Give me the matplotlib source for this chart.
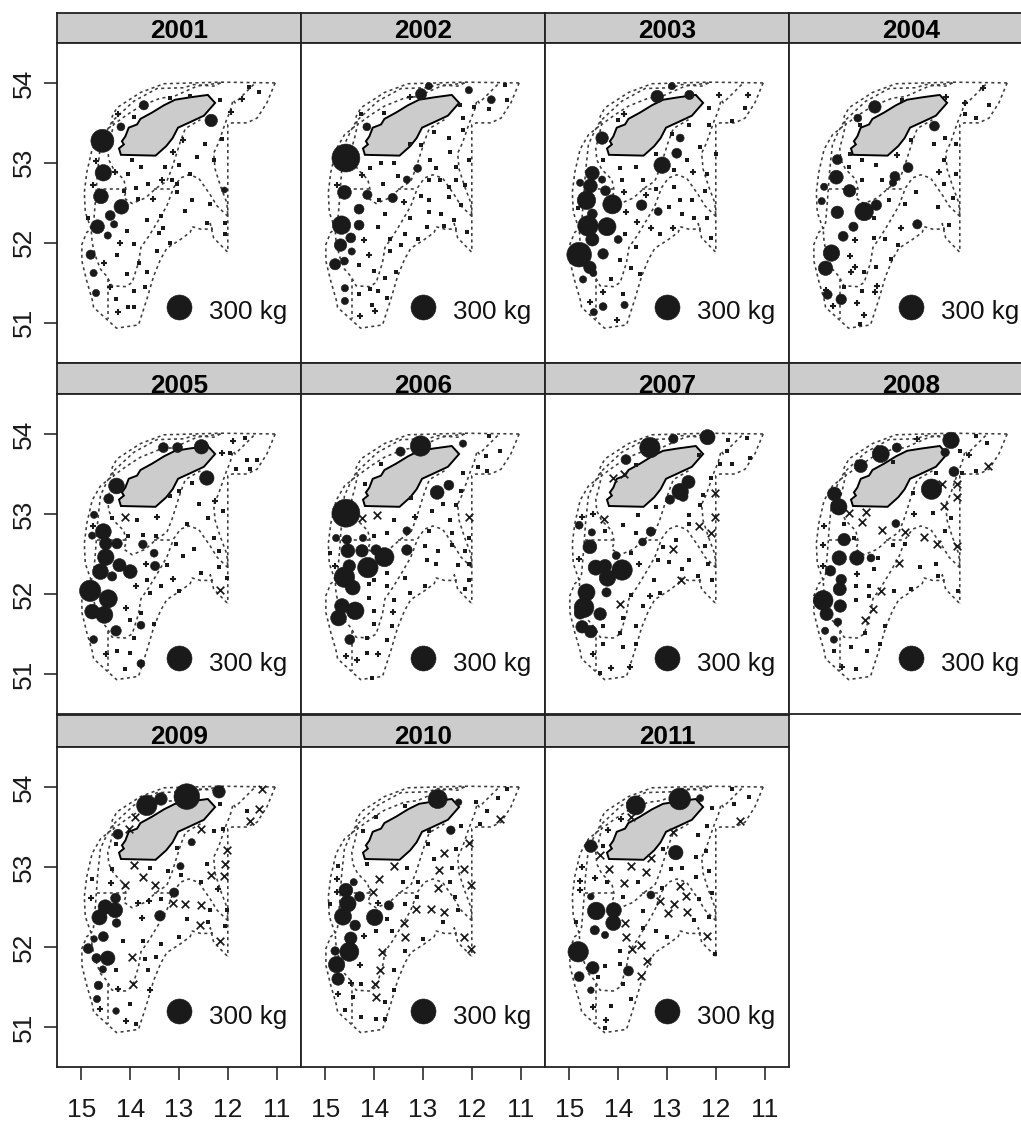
import matplotlib
matplotlib.use("Agg")
import matplotlib.pyplot as plt

plt.rcParams['font.family'] = ['Liberation Sans', 'DejaVu Sans']

W, H = 1021, 1124
DARK = '#1a1a1a'

# lake outline (lon, lat)
lake = [(14.23,53.18),(14.19,53.10),(13.48,53.09),(13.26,53.21),(13.13,53.31),(13.02,53.44),
        (12.77,53.51),(12.49,53.59),(12.26,53.75),(12.41,53.85),(12.77,53.82),(13.08,53.79),
        (13.31,53.72),(13.55,53.63),(13.79,53.55),(13.86,53.48),(14.03,53.44),(14.10,53.33),
        (14.17,53.27),(14.13,53.23),(14.23,53.18)]

# stratum boundaries
outer = [(11.03,54.00),(12.15,54.01),(13.31,53.99),(13.79,53.88),(14.27,53.69),(14.37,53.58),
         (14.35,53.48),(14.61,53.35),(14.78,53.17),(14.89,52.88),(14.94,52.63),(14.92,52.38),
         (14.80,52.17),(14.89,52.13),(14.99,51.98),(14.99,51.77),(14.89,51.52),(14.78,51.29),
         (14.75,51.19),(14.48,51.04),(14.28,50.93),(13.83,50.97),(13.66,51.29),(13.52,51.58),
         (13.38,51.79),(13.25,51.93),(12.97,52.04),(12.77,52.13),(12.73,52.20),(12.56,52.17),
         (12.32,52.17),(12.36,52.24),(12.29,52.06),(12.00,51.88)]
right_lobe = [(11.03,54.00),(11.20,53.75),(11.40,53.56),(11.61,53.50),(11.91,53.50),(12.00,53.48),(12.00,51.88)]
right_inner = [(11.47,53.98),(11.85,53.75),(11.89,53.79),(11.95,53.65),(12.05,53.50),(12.19,53.25),
               (12.29,53.12),(12.26,52.92),(12.15,52.71),(12.02,52.50),(12.00,52.33)]
west_inner = [(12.15,54.00),(12.29,53.96),(12.70,53.98),(12.90,53.94),(13.45,53.93),(13.93,53.77),
              (14.37,53.52),(14.48,53.40),(14.61,53.23),(14.67,52.88),(14.71,52.54),(14.75,52.25),(14.80,52.17)]
near_lake = [(12.15,54.00),(12.63,53.96),(13.11,53.83),(13.38,53.81),(13.79,53.71),(14.07,53.60),
             (14.34,53.48),(14.41,53.29),(14.46,53.19),(14.44,53.04),(14.34,52.92),(14.13,52.79),
             (14.08,52.65),(14.13,52.56),(13.96,52.49),(13.69,52.56),(13.45,52.69),(13.25,52.77),
             (13.14,52.94),(12.97,53.27),(12.87,53.43),(12.56,53.54)]
bar_west = [(14.68,52.67),(14.10,52.67)]
bar_mid = [(13.52,52.67),(13.14,52.67)]
mid_curve = [(12.00,52.33),(12.22,52.46),(12.36,52.60),(12.60,52.81),(12.80,52.85),(12.97,52.81),
             (13.11,52.69),(13.25,52.46),(13.45,52.25),(13.62,52.08),(13.78,51.94),(13.83,51.75),
             (13.96,51.50),(14.10,51.45),(14.37,51.46),(14.48,51.58),(14.61,51.67),(14.71,51.83),
             (14.78,52.00),(14.80,52.17)]
south_bar = [(14.45,51.54),(14.45,51.04)]
boundaries = [outer, right_lobe, right_inner, west_inner, near_lake, bar_west, bar_mid, mid_curve, south_bar]

# catches as (lon, lat, kg)
big_2001 = [(14.57,53.275,254),(14.55,52.875,130),(14.60,52.58,105),(14.18,52.45,105),(14.41,52.34,47),
            (14.67,52.20,92),(14.33,52.23,25),(14.46,52.09,25),(14.81,51.85,41),(14.75,51.62,25),
            (14.70,51.37,25),(13.72,53.72,41),(14.19,53.45,30),(12.34,53.53,75),(12.07,52.66,17)]
big_2002 = [(14.58,53.06,375),(14.67,52.22,163),(14.69,51.97,75),(14.61,52.63,92),(14.31,52.42,47),
            (14.31,52.22,47),(14.48,52.06,47),(14.80,51.73,60),(14.14,52.60,41),(13.62,52.56,41),
            (13.04,53.86,60),(14.15,53.45,30),(14.46,51.89,25),(14.61,51.77,30),(14.60,51.43,25),
            (14.60,51.27,25),(13.11,52.93,30),(13.33,52.79,25),(12.88,53.96,25),(12.06,53.91,25),(11.60,53.79,30)]
big_2003 = [(14.80,51.85,292),(14.58,51.69,75),(14.51,51.62,25),(14.62,52.21,200),(14.23,52.20,157),
            (14.53,52.04,83),(14.12,52.48,175),(14.65,52.53,163),(14.57,52.71,92),(14.53,52.87,92),
            (14.26,52.65,47),(14.33,53.31,75),(14.53,52.36,47),(14.31,51.86,53),(14.72,51.54,25),
            (13.10,52.97,130),(13.52,52.47,53),(12.80,53.12,47),(12.73,53.31,30),(13.20,53.83,75),
            (12.54,53.85,41),(12.90,53.96,25),(13.18,52.39,30),(14.00,52.04,30),(14.78,52.75,25),
            (14.33,52.79,25),(14.31,51.20,30),(13.87,51.22,25),(14.50,51.13,25)]
big_2004 = [(13.96,52.39,163),(14.63,51.87,130),(14.75,51.68,100),(14.51,52.38,75),(14.53,52.82,92),
            (14.26,52.65,75),(13.74,53.70,75),(14.09,53.56,30),(14.51,53.04,47),(14.78,52.70,25),
            (14.83,52.52,25),(13.71,52.47,53),(14.18,52.20,41),(14.39,52.08,47),(14.71,51.35,41),
            (14.43,51.29,53),(13.06,52.94,47),(13.33,52.83,47),(13.37,52.75,25),(12.52,53.46,47),(12.87,52.23,41)]
big_2005 = [(14.82,52.04,219),(14.45,51.94,157),(14.78,51.78,105),(14.53,51.74,140),(14.55,52.78,120),
            (14.50,52.63,75),(14.50,52.46,130),(14.61,52.28,120),(14.37,52.22,41),(14.22,52.36,83),
            (14.00,52.28,92),(14.27,52.63,53),(14.28,53.35,120),(14.44,53.19,47),(14.74,52.99,25),
            (14.78,52.73,25),(13.32,53.83,47),(13.03,53.83,47),(12.54,53.84,100),(12.43,53.45,100),
            (13.74,52.62,35),(13.51,52.51,30),(13.49,52.35,41),(14.29,51.54,53),(14.75,51.43,30),
            (13.78,51.61,30),(13.78,51.13,30)]
big_2006 = [(14.58,53.01,375),(13.05,53.85,200),(13.79,52.46,175),(14.13,52.33,200),(14.61,52.21,200),
            (14.44,52.08,105),(14.51,52.35,75),(14.54,52.54,92),(14.25,52.54,75),(13.96,52.55,53),
            (14.66,51.85,105),(14.39,51.79,150),(14.73,51.70,120),(14.56,52.68,41),(14.78,52.70,25),
            (14.23,52.70,25),(13.46,53.78,41),(13.33,52.55,53),(13.33,52.79,30),(12.71,53.27,92),
            (12.47,53.36,47),(14.50,51.43,47),(12.18,53.88,25)]
big_2007 = [(13.35,53.83,200),(12.17,53.96,110),(12.87,53.94,41),(13.84,53.68,47),(12.56,53.40,83),
            (12.73,53.28,130),(12.94,53.18,41),(12.67,53.22,47),(14.58,52.59,92),(13.33,52.78,41),
            (13.50,52.65,30),(14.04,52.48,30),(14.80,52.86,30),(14.54,52.77,25),(14.46,52.33,110),
            (14.27,52.35,83),(13.92,52.30,200),(14.22,52.20,130),(14.24,52.02,41),(14.65,52.02,140),
            (14.70,51.83,187),(14.78,51.76,67),(14.37,51.75,75),(14.74,51.59,75),(14.56,51.53,75)]
big_2008 = [(12.18,53.92,130),(13.62,53.75,140),(13.29,53.83,41),(14.03,53.60,83),(12.30,53.77,35),
            (12.12,53.53,47),(12.58,53.31,200),(14.57,53.25,92),(14.48,53.09,130),(13.31,52.88,30),
            (14.37,52.68,75),(14.47,52.45,100),(14.11,52.45,100),(13.82,52.45,30),(14.65,52.29,53),
            (14.43,52.18,53),(14.46,52.06,83),(14.80,51.92,187),(14.45,51.85,75),(14.73,51.75,83),
            (14.50,51.65,30),(14.76,51.54,25),(14.58,51.43,25)]
big_2009 = [(12.84,53.88,316),(13.66,53.77,200),(13.37,53.85,75),(12.18,53.94,75),(14.25,53.41,47),
            (12.74,53.31,25),(12.97,53.01,25),(13.10,52.68,41),(14.30,52.61,47),(14.51,52.50,100),
            (14.31,52.46,110),(14.63,52.37,110),(14.28,52.30,35),(13.39,52.39,53),(14.55,52.13,47),
            (14.74,52.10,21),(14.86,51.98,47),(14.69,51.86,41),(14.46,51.86,100),(14.56,51.72,25),
            (14.65,51.52,35),(14.68,51.35,25),(14.29,51.20,21)]
big_2010 = [(12.70,53.85,175),(14.58,52.71,92),(14.54,52.54,130),(14.64,52.38,140),(14.30,52.63,47),
            (14.42,52.81,25),(13.99,52.37,130),(13.70,52.52,41),(14.39,52.27,53),(14.48,52.11,75),
            (14.51,51.94,175),(14.80,51.95,35),(14.77,51.78,130),(14.74,51.60,75),(12.43,53.46,35),(12.27,53.81,21)]
big_2011 = [(12.74,53.85,226),(13.64,53.77,175),(14.56,53.26,75),(12.82,53.18,100),(14.45,52.45,150),
            (14.09,52.46,110),(14.10,52.30,110),(14.48,52.21,41),(14.27,52.15,25),(14.82,51.94,200),
            (14.52,51.74,75),(14.80,51.63,47),(13.79,51.70,47),(13.33,52.65,30),(12.32,53.86,25),
            (14.56,52.63,21),(14.56,51.46,21)]

# very small catches (lon, lat)
small_2001 = [(13.18,53.81),(12.78,53.84),(12.15,53.79),(11.57,53.95),(11.36,53.89),(13.92,53.57),(12.47,53.23),
              (12.11,53.30),(13.96,53.03),(13.78,52.95),(13.29,52.95),(13.00,52.97),(12.63,53.07),(12.28,53.04),
              (14.05,52.86),(13.64,52.73),(13.14,52.79),(12.77,52.86),(13.04,52.73),(13.88,52.68),(13.04,52.64),
              (14.13,52.65),(13.83,52.55),(12.73,52.53),(12.37,52.48),(12.88,52.40),(14.86,52.31),(13.66,52.28),
              (13.37,52.34),(13.33,52.18),(13.41,52.12),(14.07,52.15),(13.92,51.98),(13.18,52.00),(13.45,51.90),
              (14.27,51.84),(13.82,51.75),(14.07,51.61),(13.66,51.63),(13.70,51.45),(13.92,51.39),(14.29,51.29),
              (14.05,51.20),(13.92,51.20),(12.06,52.25),(12.06,52.11),(12.42,52.25)]
small_2002 = [(14.27,53.61),(13.79,53.62),(11.32,53.98),(11.28,53.79),(11.65,53.67),(11.95,53.70),(12.24,53.73),
              (12.18,53.56),(12.18,53.41),(12.78,53.39),(12.47,53.31),(12.45,53.14),(13.04,53.22),(13.27,53.23),
              (12.86,53.03),(12.06,53.04),(12.32,52.95),(12.73,52.93),(14.09,52.93),(13.86,53.00),(13.59,53.00),
              (13.51,52.84),(13.82,52.73),(12.32,52.79),(12.65,52.78),(12.88,52.79),(12.14,52.72),(12.47,52.70),
              (13.04,52.59),(12.88,52.54),(12.47,52.57),(13.90,52.54),(12.22,52.47),(13.78,52.36),(12.88,52.39),
              (12.63,52.36),(13.27,52.31),(12.36,52.29),(13.92,52.20),(12.92,52.20),(12.57,52.21),(12.10,52.14),
              (13.37,52.11),(13.10,52.04),(13.68,52.04),(13.45,51.97),(13.68,51.89),(14.31,51.72),(14.00,51.65),
              (13.55,51.63),(13.78,51.56),(14.09,51.42),(13.92,51.40),(14.31,51.36),(13.74,51.31),(14.05,51.22)]
small_2003 = [(14.83,52.43),(14.31,53.03),(14.01,53.53),(13.96,52.93),(13.64,52.95),(13.92,52.79),(13.49,52.78),
              (13.23,53.11),(12.59,53.04),(12.86,52.91),(12.55,53.47),(12.90,53.36),(12.14,53.68),(12.14,53.47),
              (11.40,53.68),(11.67,53.52),(12.32,53.20),(11.99,53.11),(12.18,52.86),(12.22,52.65),(12.86,52.70),
              (13.23,52.67),(12.73,52.53),(12.49,52.53),(12.96,52.45),(12.69,52.36),(12.45,52.31),(12.18,52.31),
              (13.14,52.11),(13.86,52.11),(12.10,52.06),(13.64,51.95),(13.96,51.78),(13.74,51.68),(13.55,51.61),
              (14.15,51.54),(13.90,51.36)]
small_2004 = [(13.18,53.79),(11.40,53.73),(11.89,53.61),(11.67,53.56),(14.05,53.47),(13.00,53.28),(12.30,53.31),
              (12.53,53.23),(12.08,53.23),(14.25,53.11),(14.00,53.03),(13.72,52.97),(14.27,52.95),(12.32,53.03),
              (12.08,52.86),(14.00,52.79),(13.59,52.79),(12.32,52.73),(12.90,52.64),(13.45,52.54),(12.14,52.56),
              (13.12,52.48),(12.45,52.45),(13.76,52.31),(12.22,52.22),(13.76,52.06),(13.53,52.04),(13.27,51.97),
              (13.41,51.79),(13.72,51.70),(13.96,51.63),(14.37,51.45),(14.00,51.39),(14.05,50.98)]
small_2005 = [(11.65,53.95),(11.95,53.76),(11.61,53.68),(11.40,53.68),(11.83,53.56),(11.55,53.56),(12.73,53.39),
              (13.00,53.29),(13.18,53.22),(12.59,53.13),(12.10,53.04),(12.41,52.95),(14.37,52.95),(13.86,52.93),
              (12.84,52.88),(13.74,52.74),(13.47,52.72),(14.05,52.72),(12.28,52.70),(13.06,52.63),(12.69,52.56),
              (12.18,52.54),(12.92,52.48),(13.25,52.36),(12.18,52.34),(12.55,52.26),(12.02,52.20),(13.66,52.18),
              (13.37,52.10),(13.00,52.04),(13.59,52.01),(13.78,51.76),(14.00,51.68),(13.51,51.63),(13.92,51.45),
              (14.27,51.29),(14.00,51.26),(14.11,51.06)]
small_2006 = [(11.65,53.98),(11.42,53.79),(11.70,53.73),(11.88,53.59),(11.69,53.54),(12.18,53.51),(12.22,53.29),
              (13.86,53.63),(14.19,53.38),(13.25,53.20),(12.59,53.13),(12.32,53.11),(12.82,53.04),(13.59,52.93),
              (12.45,52.93),(14.00,52.73),(13.74,52.76),(12.88,52.79),(12.41,52.76),(12.06,52.70),(12.96,52.60),
              (12.41,52.61),(12.69,52.54),(12.14,52.54),(14.91,52.51),(12.92,52.43),(12.73,52.38),(12.28,52.36),
              (12.06,52.38),(13.74,52.26),(13.37,52.20),(12.06,52.18),(14.00,52.18),(14.11,52.13),(13.74,52.10),
              (12.96,52.10),(12.14,52.06),(13.27,52.01),(14.11,51.95),(13.59,51.92),(14.00,51.79),(14.00,51.63),
              (13.64,51.60),(14.15,51.45),(13.74,51.43),(14.15,51.26),(14.05,50.95)]
small_2007 = [(11.76,53.93),(11.36,53.95),(11.77,53.79),(11.29,53.70),(11.91,53.62),(11.67,53.62),(12.10,53.45),
              (12.34,53.74),(13.64,53.61),(12.26,53.24),(12.32,53.11),(13.23,53.09),(13.59,52.99),(12.55,52.99),
              (12.55,52.88),(13.90,52.86),(14.27,52.79),(13.64,52.76),(12.82,52.68),(12.22,52.60),(13.08,52.59),
              (13.74,52.51),(13.18,52.43),(12.96,52.40),(12.55,52.43),(12.17,52.38),(12.69,52.31),(13.27,52.18),
              (12.08,52.18),(13.74,51.99),(13.14,52.01),(13.49,51.85),(13.90,51.70),(14.31,51.60),(13.64,51.60),
              (13.96,51.51),(14.31,51.38),(13.90,51.34),(13.64,51.38),(14.37,51.01),(12.36,52.22)]
small_2008 = [(11.67,53.98),(11.44,53.89),(12.00,53.79),(11.67,53.54),(11.95,53.51),(13.37,53.65),(12.49,53.51),
              (12.96,53.26),(12.18,52.95),(12.55,53.01),(14.37,52.87),(12.30,52.79),(14.17,52.70),(13.37,52.61),
              (13.12,52.63),(13.68,52.45),(13.76,52.31),(12.82,52.34),(12.49,52.38),(14.13,52.10),(13.86,52.10),
              (13.35,52.04),(13.00,52.06),(13.86,51.98),(14.13,51.93),(12.45,52.23),(12.04,52.04),(13.53,51.60),
              (13.94,51.51),(14.23,51.34),(13.90,51.29),(14.58,51.29),(13.64,51.38),(14.13,51.06)]
small_2009 = [(12.15,53.79),(11.61,53.70),(12.28,53.45),(12.09,53.47),(14.29,53.29),(13.04,53.24),(12.43,53.04),
              (13.59,52.99),(14.37,52.98),(14.78,52.85),(12.96,52.90),(13.23,52.95),(12.55,52.81),(13.37,52.60),
              (12.02,52.46),(12.37,52.46),(12.84,52.35),(12.41,52.31),(12.06,52.26),(14.15,52.07),(13.74,52.07),
              (13.37,52.04),(13.00,52.13),(13.70,51.85),(13.47,51.88),(14.29,51.71),(13.64,51.71),(14.00,51.29),(13.88,51.04)]
small_2010 = [(11.28,53.98),(11.46,53.86),(11.69,53.70),(11.91,53.81),(11.83,53.54),(12.22,53.51),(12.88,53.45),
              (12.90,53.29),(12.32,53.23),(12.77,53.10),(12.41,52.99),(13.33,52.99),(14.15,53.04),(14.75,53.01),
              (13.37,53.76),(13.96,53.63),(14.23,53.45),(13.41,52.81),(13.10,52.81),(12.45,52.81),(12.34,52.63),
              (13.12,52.63),(14.91,52.54),(13.37,52.54),(12.28,52.46),(13.74,52.35),(12.59,52.31),(13.96,52.20),
              (13.64,52.20),(13.00,52.10),(13.37,51.95),(13.59,51.71),(14.27,51.54),(13.59,51.46),(13.78,51.31),
              (14.43,51.38),(14.60,51.21),(14.27,51.13),(13.96,51.10),(13.78,51.10)]
small_2011 = [(11.67,53.98),(11.32,53.88),(11.63,53.79),(12.08,53.74),(12.18,53.51),(12.36,53.40),(12.20,53.20),
              (13.08,53.22),(12.41,53.13),(14.31,53.26),(12.92,52.98),(12.69,52.99),(12.14,52.95),(12.41,52.88),
              (14.23,52.81),(13.59,52.81),(13.10,52.74),(12.08,52.68),(13.90,52.63),(12.34,52.60),(13.49,52.45),
              (12.45,52.34),(12.14,52.38),(14.86,52.31),(13.49,52.24),(13.23,52.20),(13.00,52.13),(13.96,51.95),
              (13.96,51.79),(14.27,51.76),(14.41,51.63),(13.90,51.54),(13.74,51.35),(14.15,51.26),(14.27,50.99),(12.02,51.91)]

# traces (plus signs)
plus_2001 = [(14.25,53.61),(11.71,53.80),(11.94,53.64),(12.91,53.28),(13.12,53.13),(13.35,52.78),(13.53,52.55),
             (14.71,53.02),(14.76,52.72),(14.31,52.88),(14.21,52.00),(14.54,51.74),(14.41,51.44),(14.26,51.13)]
plus_2002 = [(13.27,53.83),(14.25,52.85),(14.76,52.72),(13.39,52.51),(14.21,52.03),(14.11,51.85),(13.98,51.14),(14.29,51.08)]
plus_2003 = [(13.88,53.61),(11.93,53.85),(11.34,53.85),(12.47,52.88),(13.88,52.63),(13.43,52.60),(13.84,52.39),
             (13.61,52.26),(13.33,52.19),(12.88,52.19),(14.31,51.38),(14.58,51.26),(14.02,51.03)]
plus_2004 = [(11.52,53.94),(12.28,53.83),(11.89,53.75),(13.29,53.10),(12.43,52.88),(13.21,52.19),(14.15,52.03),
             (14.25,51.83),(14.15,51.69),(14.22,51.63),(13.70,51.46),(13.74,51.38),(14.74,51.41),(14.11,51.24),
             (14.59,51.21),(13.96,51.10)]
plus_2005 = [(11.89,53.91),(12.12,53.76),(12.26,53.16),(13.45,52.96),(14.76,52.85),(13.68,52.37),(13.12,52.19),
             (13.88,52.10),(14.09,51.82),(14.50,51.25)]
plus_2006 = [(13.16,52.96),(14.80,52.35),(13.61,51.78),(14.58,51.23),(14.35,51.17),(13.92,51.25)]
plus_2007 = [(14.74,52.96),(14.52,53.00),(14.80,52.44),(13.57,52.37),(13.35,51.98),(14.52,51.25),(14.15,51.08),(13.76,51.09)]
plus_2008 = [(12.88,53.94),(12.94,53.00),(11.81,53.74),(14.78,52.85),(14.80,52.61),(14.80,52.35),(14.11,52.25),(14.41,51.09)]
plus_2009 = [(14.39,52.80),(14.80,52.61),(13.61,52.58),(13.84,52.55),(13.76,52.36),(14.62,51.23),(14.09,51.08),
             (13.59,51.46),(14.25,51.48),(12.21,52.72)]
plus_2010 = [(14.76,52.85),(14.76,52.69),(13.93,52.55),(14.21,52.14),(14.29,51.78),(14.48,51.55),(14.74,51.41)]
plus_2011 = [(14.74,53.00),(14.48,52.86),(14.78,52.83),(14.78,52.71),(14.52,51.25),(14.25,51.09),(13.94,53.60),(14.20,53.46)]

# zero hauls (crosses)
cross_2005 = [(14.10,52.96),(12.15,52.05)]
cross_2006 = [(13.95,52.99),(14.24,52.95),(12.06,52.96)]
cross_2007 = [(14.11,53.45),(13.88,53.50),(14.29,52.94),(12.02,53.26),(12.02,52.96),(12.34,52.85),(12.10,52.76),
              (12.87,52.56),(13.96,51.87),(12.71,52.18)]
cross_2008 = [(11.42,53.60),(12.37,53.38),(12.06,53.38),(12.06,53.21),(12.32,53.10),(14.27,53.01),(13.92,53.03),
              (14.00,52.90),(13.59,52.80),(13.12,52.78),(12.73,52.71),(12.47,52.63),(12.06,52.60),(13.25,52.39),
              (13.61,52.04),(13.78,51.81),(13.94,51.68)]
cross_2009 = [(11.30,53.98),(11.37,53.73),(11.54,53.58),(13.91,53.63),(14.02,53.48),(12.54,53.48),(12.02,53.21),
              (12.06,53.04),(12.08,52.89),(12.35,52.90),(13.92,53.03),(13.73,52.87),(14.11,52.78),(13.50,52.78),
              (13.13,52.55),(12.87,52.54),(12.54,52.53),(12.56,52.28),(12.17,52.08),(13.97,51.88),(13.94,51.54)]
cross_2010 = [(11.42,53.60),(12.06,53.30),(12.57,53.17),(12.67,52.96),(12.15,52.98),(12.01,52.77),(12.69,52.74),
              (13.60,53.01),(13.90,52.85),(14.03,52.69),(13.14,52.48),(12.84,52.48),(12.57,52.44),(13.38,52.30),
              (13.36,52.12),(12.17,52.12),(12.02,51.98),(13.85,51.94),(13.88,51.71),(13.98,51.54),(13.97,51.38)]
cross_2011 = [(11.50,53.58),(12.87,53.44),(13.73,53.63),(14.37,53.15),(13.33,53.11),(14.18,52.98),(13.73,53.01),
              (13.43,52.94),(13.88,52.80),(12.73,52.76),(12.61,52.64),(13.14,52.58),(12.85,52.54),(12.97,52.42),
              (12.58,52.44),(13.87,52.30),(13.84,52.12),(13.54,52.03),(13.72,51.98),(12.18,52.14),(13.40,51.83),(13.54,51.64)]

years = list(range(2001, 2012))
big = dict(zip(years, [big_2001, big_2002, big_2003, big_2004, big_2005, big_2006, big_2007, big_2008, big_2009, big_2010, big_2011]))
small = dict(zip(years, [small_2001, small_2002, small_2003, small_2004, small_2005, small_2006, small_2007, small_2008, small_2009, small_2010, small_2011]))
plus = dict(zip(years, [plus_2001, plus_2002, plus_2003, plus_2004, plus_2005, plus_2006, plus_2007, plus_2008, plus_2009, plus_2010, plus_2011]))
cross = {2005: cross_2005, 2006: cross_2006, 2007: cross_2007, 2008: cross_2008, 2009: cross_2009, 2010: cross_2010, 2011: cross_2011}

x_ticks = [15, 14, 13, 12, 11]
y_ticks = [51, 52, 53, 54]
ref_kg = 300

col_left = [57, 301, 545, 789]
col_w = 244
# strip top, panel top, panel bottom, title baseline (pixels from the top)
rows = [(12.5, 43, 362.5, 38.5), (363, 394, 714, 393), (714.5, 747, 1067, 744.5)]


def px_axes(fig, left, top, right, bottom):
    return fig.add_axes([left / W, 1 - bottom / H, (right - left) / W, (bottom - top) / H])


def kg_to_s(kg):
    # 300 kg is 18 pt across
    return [k * 324 / 300 for k in kg]


fig = plt.figure(figsize=(W / 100, H / 100), dpi=100)

for i, year in enumerate(years):
    r, c = divmod(i, 4)
    strip_top, top, bottom, base = rows[r]
    left = col_left[c]

    st = px_axes(fig, left, strip_top, left + col_w, top)
    st.set_facecolor('#cccccc')
    st.set_xticks([])
    st.set_yticks([])
    st.text(0.5, (top - base) / (top - strip_top), str(year), transform=st.transAxes, ha='center', va='baseline',
            fontsize=18.8, fontweight='bold', color='black')

    ax = px_axes(fig, left, top, left + col_w, bottom)
    ax.set_xlim(15.5, 10.5)
    ax.set_ylim(50.5, 54.5)

    for line in boundaries:
        ax.plot([p[0] for p in line], [p[1] for p in line], color='#3c3c3c', lw=1.15,
                linestyle=(0, (1.9, 2.1)), zorder=2)
    ax.fill([p[0] for p in lake], [p[1] for p in lake], facecolor='#cccccc', edgecolor='black', lw=1.4, zorder=3)

    ax.scatter([p[0] for p in small[year]], [p[1] for p in small[year]], marker='s', s=9.5, color=DARK, lw=0, zorder=4)
    ax.scatter([p[0] for p in plus[year]], [p[1] for p in plus[year]], marker='+', s=24, color=DARK, lw=1.5, zorder=4)
    if year in cross:
        ax.scatter([p[0] for p in cross[year]], [p[1] for p in cross[year]], marker='x', s=30, color=DARK, lw=1.25, zorder=4)
    ax.scatter([p[0] for p in big[year]], [p[1] for p in big[year]], s=kg_to_s([p[2] for p in big[year]]),
               color=DARK, lw=0.4, zorder=5)

    ax.scatter([13.0], [51.2], s=kg_to_s([ref_kg]), color=DARK, lw=0.4, zorder=5)
    ax.text(12.39, 51.04, f'{ref_kg} kg', fontsize=18.7, ha='left', va='baseline', color='#111111')

    ax.set_xticks(x_ticks if r == 2 else [])
    ax.set_yticks(y_ticks if c == 0 else [])
    if r == 2:
        ax.tick_params(axis='x', length=9.4, width=1.1, pad=13, labelsize=19, colors='#1a1a1a')
    if c == 0:
        ax.tick_params(axis='y', length=9.4, width=1.1, pad=5.5, labelsize=19, colors='#1a1a1a')
        plt.setp(ax.get_yticklabels(), rotation=90, va='center')

    for a in (st, ax):
        for s in a.spines.values():
            s.set_linewidth(1.3)
            s.set_color('#222222')

fig.savefig('out.png', dpi=100)
